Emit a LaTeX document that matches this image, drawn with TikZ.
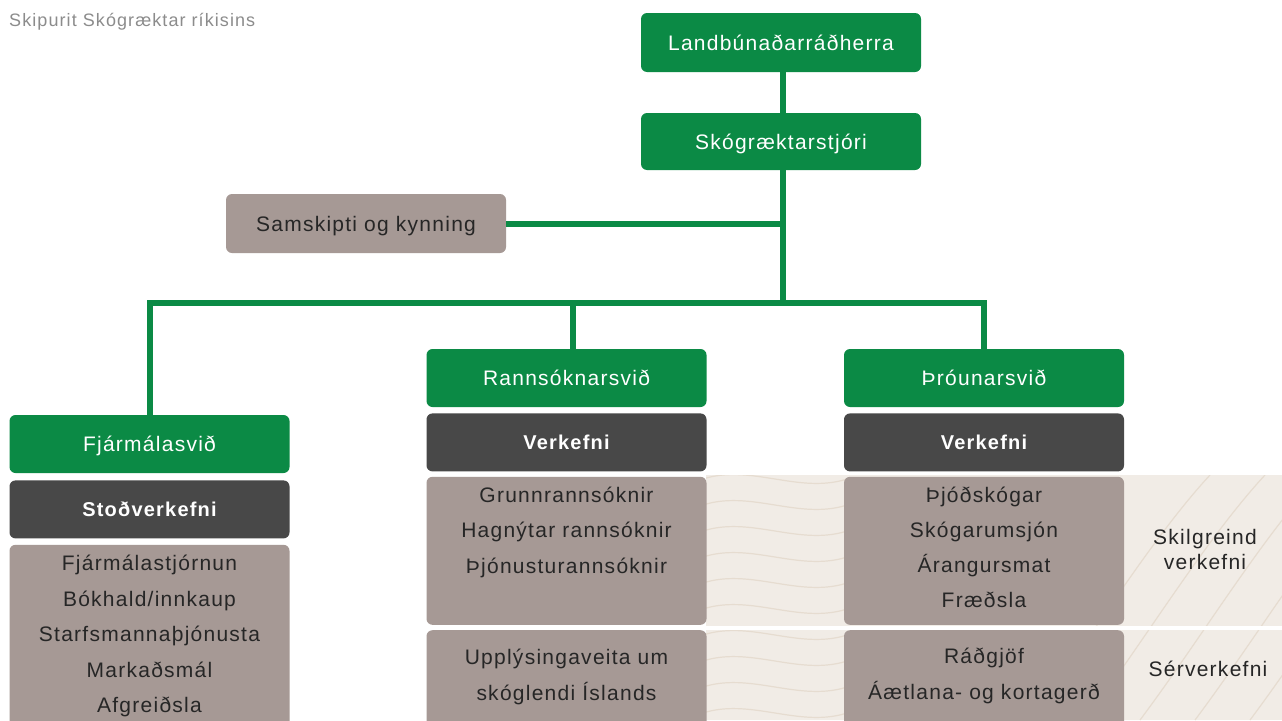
\documentclass[tikz,border=0pt]{standalone}
\usepackage{fontspec}
\setmainfont{Liberation Sans}[LetterSpace=6]
\usepackage{tikz}
\usetikzlibrary{positioning}

\definecolor{skgreen}{HTML}{0B8A45}
\definecolor{skdark}{HTML}{484848}
\definecolor{skmauve}{HTML}{A69995}
\definecolor{skwood}{HTML}{F1ECE6}
\definecolor{skgrain}{HTML}{E6DCD0}
\definecolor{sktext}{HTML}{262626}
\definecolor{skgrey}{HTML}{8C8C8C}

\tikzset{
  box/.style={rounded corners=6pt, minimum width=280pt, inner sep=0pt,
    text height=16pt, text depth=1pt, font=\fontsize{21}{25}\selectfont},
  greenbox/.style={box, fill=skgreen, text=white, minimum height=58pt},
  darkbox/.style={box, fill=skdark, text=white, minimum height=58pt,
    font=\fontsize{20}{24}\selectfont\bfseries},
  listbox/.style={box, fill=skmauve},
  item/.style={anchor=base, inner sep=0pt, text=sktext,
    font=\fontsize{21}{25}\selectfont},
  conn/.style={draw=skgreen, line width=6pt},
  grain/.style={draw=skgrain, line width=1.2pt},
}

\begin{document}
\begin{tikzpicture}[x=1pt,y=-1pt]
\useasboundingbox[fill=white] (0,0) rectangle (1282,720);

% wood background
\fill[skwood] (706,475) rectangle (1282,720);
\begin{scope}
  \clip (706,475) rectangle (1282,720);
  \foreach \k in {0,...,9}
    \draw[grain] (700,480+26*\k) .. controls (750,462+26*\k) and (800,496+26*\k) .. (850,478+26*\k);
  \foreach \k in {0,...,5}
    \draw[grain] (1030+55*\k,720) .. controls (1090+55*\k,640) and (1150+55*\k,540) .. (1210+55*\k,475);
\end{scope}
\fill[white] (706,625.5) rectangle (1282,629.5);

\node[anchor=base west, inner sep=0pt, text=skgrey, font=\fontsize{18}{22}\selectfont]
  (title) at (9,26.5) {Skipurit Skógræktar ríkisins};

% top
\node[greenbox, minimum height=59pt] (landb) at (781,42.5) {Landbúnaðarráðherra};
\node[greenbox, minimum height=57pt] (stjori) at (781,141.5) {Skógræktarstjóri};
\node[listbox, minimum height=59pt, text=sktext] (samsk) at (366,223.5) {Samskipti og kynning};

% columns
\node[greenbox] (fjarmal) at (149.5,444) {Fjármálasvið};
\node[darkbox, below=7pt of fjarmal] (stod) {Stoðverkefni};
\node[listbox, below=6pt of stod, minimum height=200pt] (fjlist) {};

\node[greenbox] (rannsokn) at (566.5,378) {Rannsóknarsvið};
\node[darkbox, below=6pt of rannsokn] (rverk) {Verkefni};
\node[listbox, below=5pt of rverk, minimum height=148pt] (rlist) {};
\node[listbox, below=5pt of rlist, minimum height=120pt] (rlistb) {};

\node[greenbox] (throun) at (984,378) {Þróunarsvið};
\node[darkbox, below=6pt of throun] (tverk) {Verkefni};
\node[listbox, below=5pt of tverk, minimum height=148pt] (tlist) {};
\node[listbox, below=5pt of tlist, minimum height=120pt] (tlistb) {};

% items
\foreach \t [count=\i from 0] in {Fjármálastjórnun, Bókhald/innkaup, Starfsmannaþjónusta, Markaðsmál, Afgreiðsla}
  \node[item] (fj\i) at ([yshift=-26pt-35.5pt*\i]fjlist.north) {\t};
\foreach \t [count=\i from 0] in {Grunnrannsóknir, Hagnýtar rannsóknir, Þjónusturannsóknir}
  \node[item] (r\i) at ([yshift=-25.5pt-35.5pt*\i]rlist.north) {\t};
\foreach \t [count=\i from 0] in {Upplýsingaveita um, skóglendi Íslands}
  \node[item] (rb\i) at ([yshift=-34.5pt-36pt*\i]rlistb.north) {\t};
\foreach \t [count=\i from 0] in {Þjóðskógar, Skógarumsjón, Árangursmat, Fræðsla}
  \node[item] (t\i) at ([yshift=-25.5pt-35pt*\i]tlist.north) {\t};
\foreach \t [count=\i from 0] in {Ráðgjöf, Áætlana- og kortagerð}
  \node[item] (tb\i) at ([yshift=-33pt-36pt*\i]tlistb.north) {\t};

\node[align=center, inner sep=0pt, text=sktext, font=\fontsize{21}{25}\selectfont]
  (skilgr) at (1205,549.5) {Skilgreind\\verkefni};
\node[inner sep=0pt, text=sktext, font=\fontsize{21}{25}\selectfont]
  (serverk) at (1208,669) {Sérverkefni};

% connectors
\coordinate (hub) at (783,303);
\draw[conn] (landb.south -| hub) -- (stjori.north -| hub);
\draw[conn] (stjori.south -| hub) -- (hub);
\draw[conn] (samsk.east) -- (samsk.east -| hub);
\draw[conn] (fjarmal.north) |- (hub) -| (throun.north);
\draw[conn] ([xshift=6pt]rannsokn.north) -- ([xshift=6pt]rannsokn.north |- hub);
\end{tikzpicture}
\end{document}
